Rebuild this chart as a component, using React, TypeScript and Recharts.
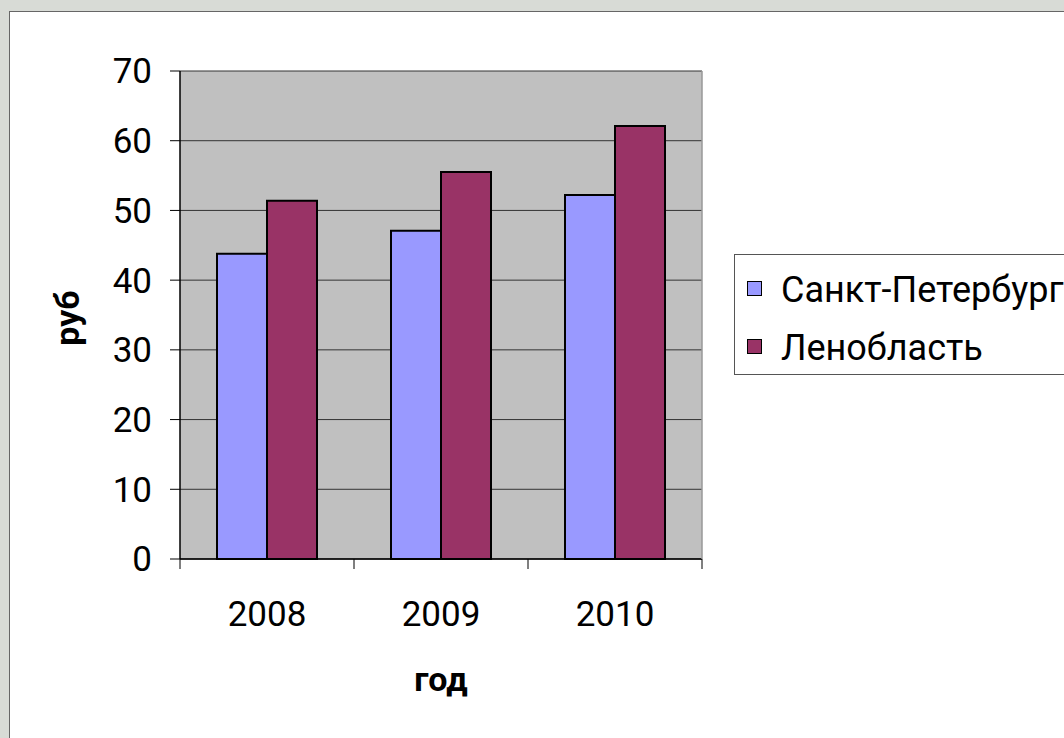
import { BarChart, Bar, XAxis, YAxis, CartesianGrid, Legend, Label } from 'recharts';

const years = ['2008', '2009', '2010'];
const spbValues = [43.8, 47.1, 52.2];
const lenValues = [51.4, 55.5, 62.1];
const yTicks = [0, 10, 20, 30, 40, 50, 60, 70];

const seriesNames = { spb: 'Санкт-Петербург', len: 'Ленобласть' };
const seriesOrder = [seriesNames.spb, seriesNames.len];

const data = years.map((year, i) => ({ year, spb: spbValues[i], len: lenValues[i] }));

const font = 'Roboto, "DejaVu Sans", sans-serif';
const xTickMargin = 42;

// category tick: label in the middle, tick marks on the band edges (like Excel)
const YearTick = (props: any) => {
  const { x, y, payload, index, width, visibleTicksCount } = props;
  const half = width / (visibleTicksCount || years.length) / 2;
  const axisY = y - xTickMargin;
  const last = index === (visibleTicksCount || years.length) - 1;
  return (
    <g>
      <line x1={x - half} x2={x - half} y1={axisY} y2={axisY + 10} stroke="#000" />
      {last && <line x1={x + half} x2={x + half} y1={axisY} y2={axisY + 10} stroke="#000" />}
      <text x={x} y={y} dy="0.71em" textAnchor="middle" fill="#000" fontSize={35} fontFamily={font}>
        {payload.value}
      </text>
    </g>
  );
};

const renderLegend = (props: any) => {
  const items = [...(props.payload || [])].sort(
    (a: any, b: any) => seriesOrder.indexOf(a.value) - seriesOrder.indexOf(b.value)
  );
  return (
    <div
      style={{
        width: 400,
        height: 121,
        border: '1px solid #555',
        background: '#fff',
        paddingTop: 6,
        paddingLeft: 12,
        boxSizing: 'border-box',
        fontFamily: font
      }}
    >
      {items.map((entry: any) => (
        <div key={entry.value} style={{ display: 'flex', alignItems: 'center', height: 58, lineHeight: '58px' }}>
          <span
            style={{
              display: 'inline-block',
              width: 13,
              height: 13,
              background: entry.color,
              border: '1px solid #000',
              position: 'relative',
              top: -2
            }}
          />
          <span style={{ marginLeft: 19, fontSize: 36, color: '#000' }}>{entry.value}</span>
        </div>
      ))}
    </div>
  );
};

export default function App() {
  return (
    <div
      style={{
        position: 'absolute',
        left: 0,
        top: 0,
        width: 1064,
        height: 738,
        overflow: 'hidden',
        background: '#d8dbd6'
      }}
    >
      <div
        style={{
          position: 'absolute',
          left: 9,
          top: 11,
          width: 1100,
          height: 800,
          background: '#fff',
          border: '1px solid #666'
        }}
      />
      <div style={{ position: 'absolute', left: 0, top: 0 }}>
        <BarChart
          width={1064}
          height={738}
          data={data}
          margin={{ top: 71, right: 361, bottom: 29, left: 40 }}
          barGap={0}
          barSize={50}
        >
          <CartesianGrid vertical={false} fill="#c0c0c0" stroke="#333" strokeOpacity={1} />
          <XAxis
            dataKey="year"
            height={150}
            tickSize={0}
            tickMargin={xTickMargin}
            tickLine={false}
            axisLine={{ stroke: '#000', strokeWidth: 1.5 }}
            tick={<YearTick />}
            interval={0}
          >
            <Label
              value="год"
              position="insideBottom"
              offset={18}
              fill="#000"
              fontSize={34}
              fontWeight="bold"
              fontFamily={font}
            />
          </XAxis>
          <YAxis
            domain={[0, 70]}
            ticks={yTicks}
            width={140}
            tickSize={10}
            tickMargin={18}
            interval={0}
            tickLine={{ stroke: '#000' }}
            axisLine={{ stroke: '#000', strokeWidth: 1.5 }}
            tick={{ fill: '#000', fontSize: 35, fontFamily: font }}
          >
            <Label
              content={(p: any) => {
                const vb = p.viewBox || { x: 40, y: 71, height: 488 };
                const cy = vb.y + vb.height / 2 + 3;
                return (
                  <text
                    transform={`translate(${vb.x + 39},${cy}) rotate(-90)`}
                    textAnchor="middle"
                    fill="#000"
                    fontSize={34}
                    fontWeight="bold"
                    fontFamily={font}
                  >
                    руб
                  </text>
                );
              }}
            />
          </YAxis>
          <YAxis
            yAxisId="r"
            orientation="right"
            width={1}
            tick={false}
            tickLine={false}
            axisLine={{ stroke: '#999', strokeWidth: 1.5 }}
          />
          <Legend
            layout="vertical"
            align="center"
            verticalAlign="middle"
            content={renderLegend}
            wrapperStyle={{ position: 'absolute', left: 734, top: 254, width: 400, height: 121 }}
          />
          <Bar
            dataKey="spb"
            name={seriesNames.spb}
            fill="#9999ff"
            stroke="#000"
            strokeWidth={2}
            isAnimationActive={false}
          />
          <Bar
            dataKey="len"
            name={seriesNames.len}
            fill="#993366"
            stroke="#000"
            strokeWidth={2}
            isAnimationActive={false}
          />
        </BarChart>
      </div>
    </div>
  );
}
